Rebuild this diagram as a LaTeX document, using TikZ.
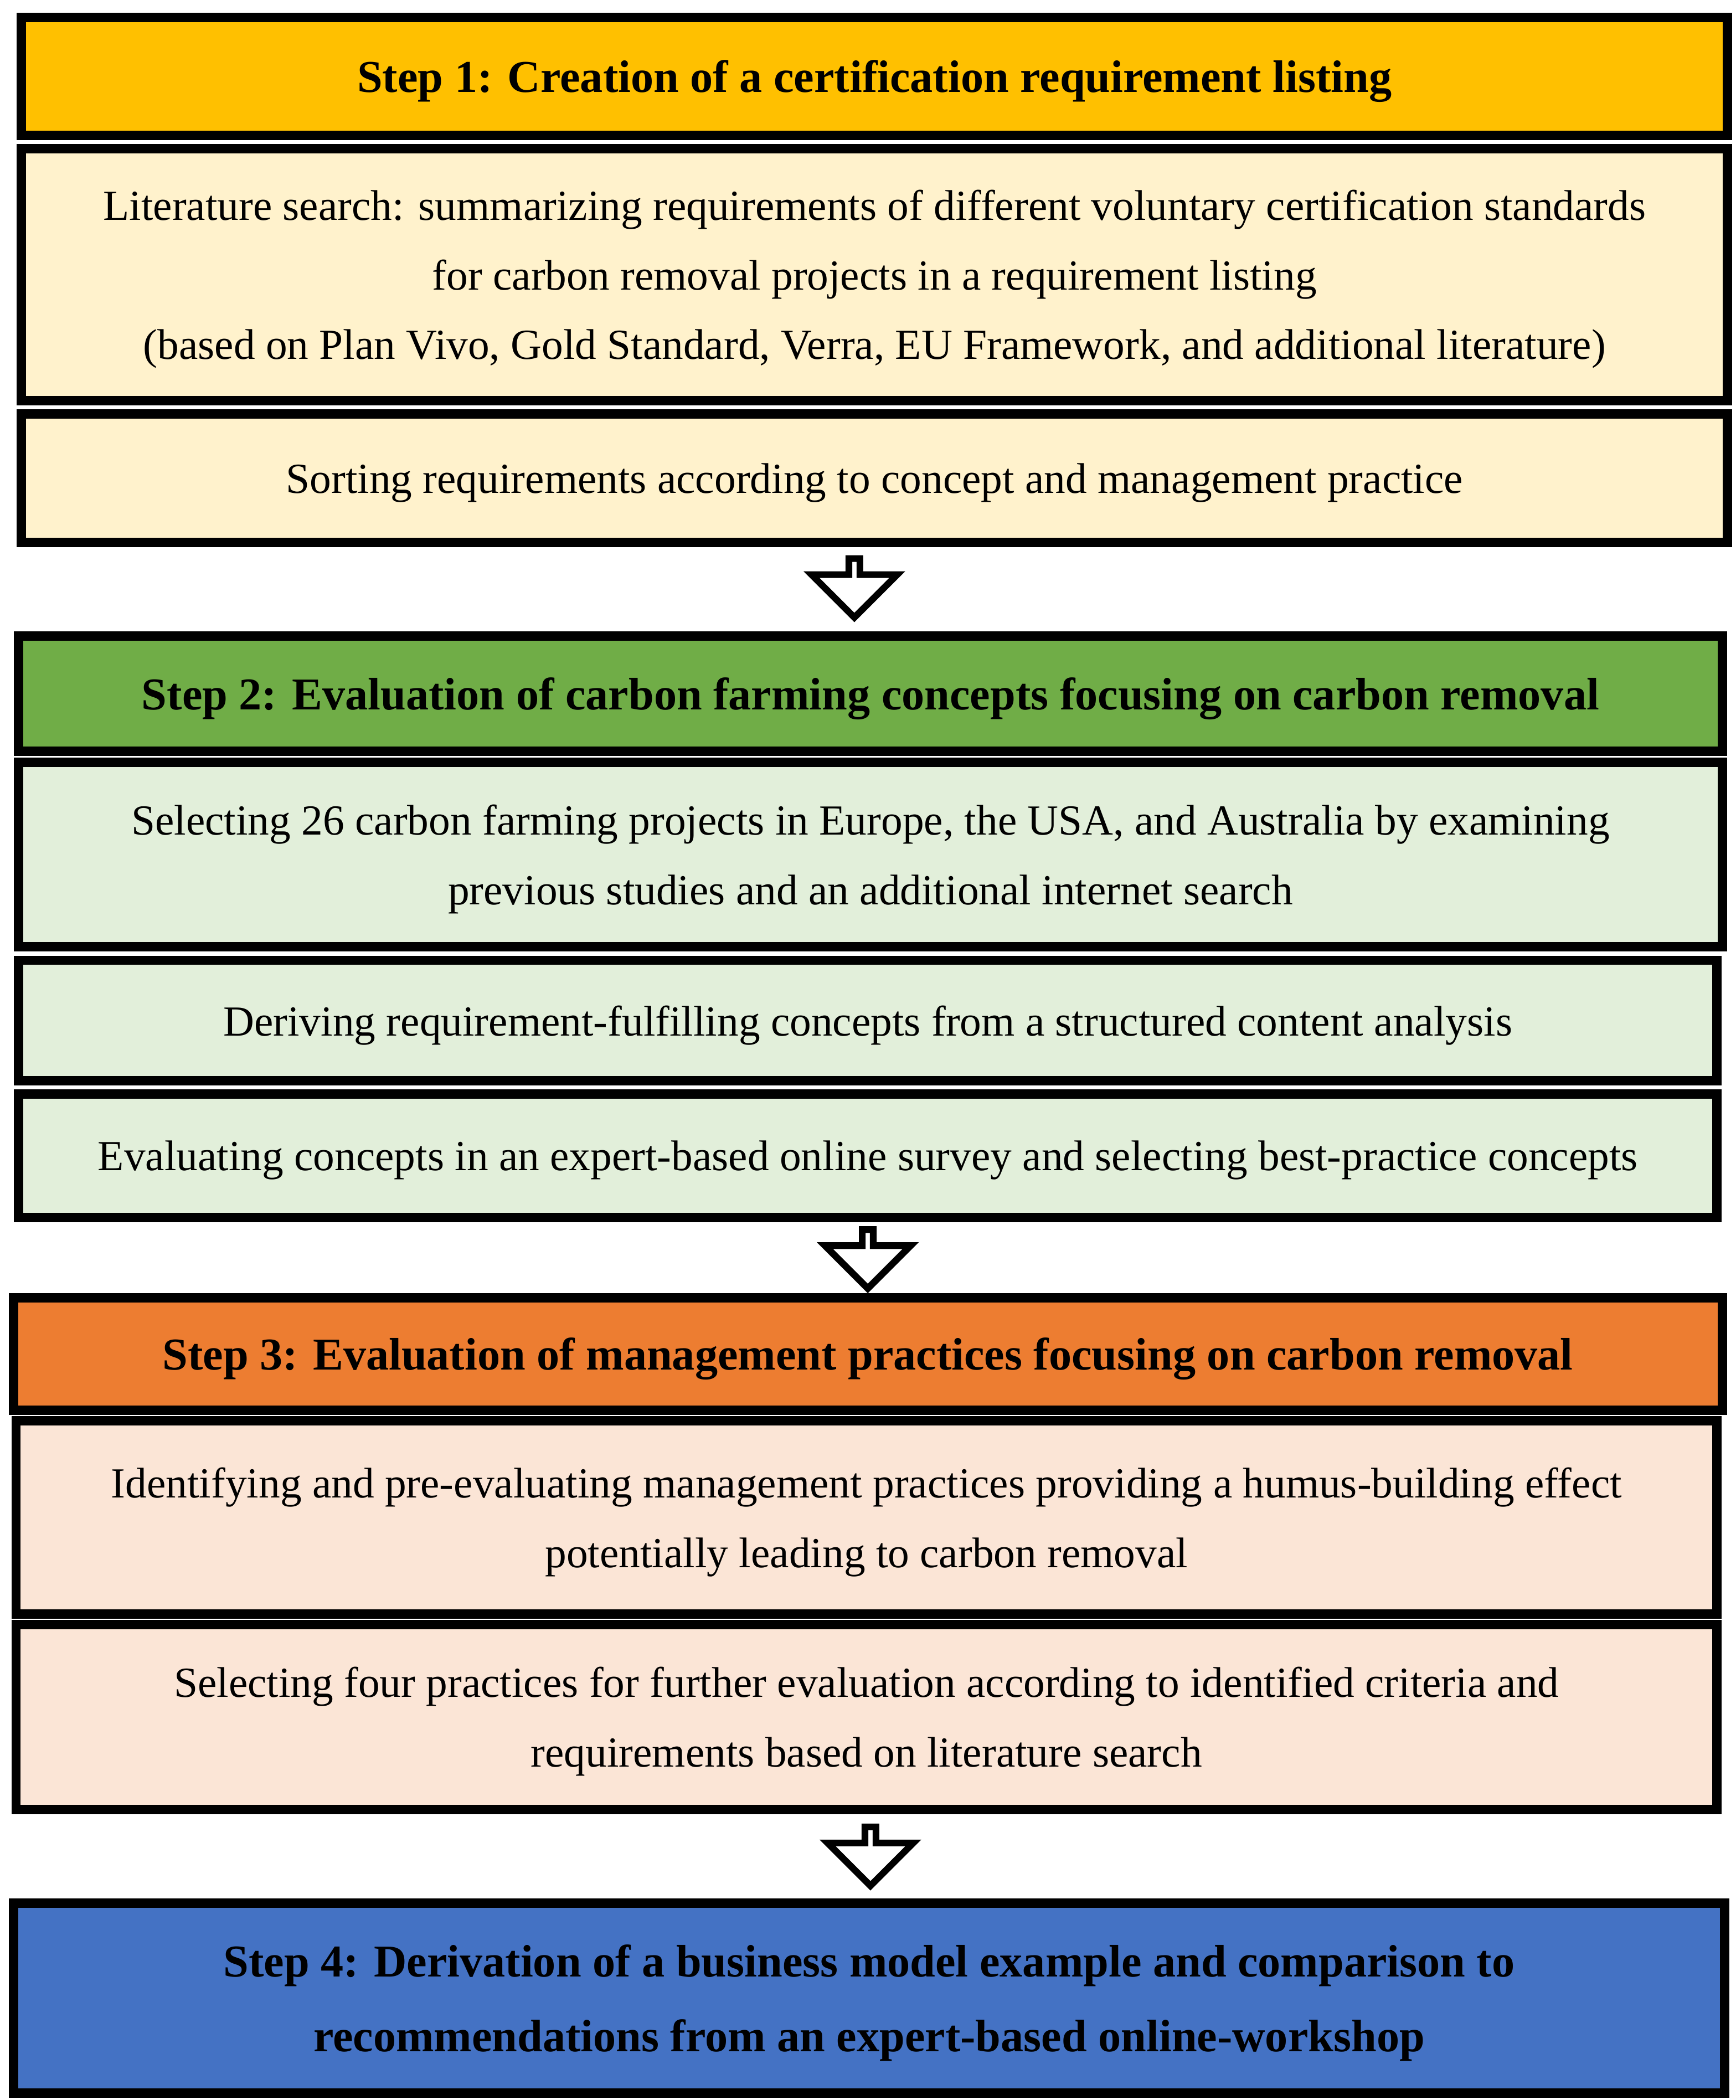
\documentclass[tikz,border=0pt]{standalone}
\usepackage{fontspec}
\setmainfont{Liberation Serif}
\usetikzlibrary{shapes.arrows}
\definecolor{c1}{HTML}{FFC000}\definecolor{c1l}{HTML}{FFF2CC}
\definecolor{c2}{HTML}{70AD47}\definecolor{c2l}{HTML}{E2EFDA}
\definecolor{c3}{HTML}{ED7D31}\definecolor{c3l}{HTML}{FBE5D6}
\definecolor{c4}{HTML}{4472C4}
\begin{document}
\begin{tikzpicture}[x=1pt,y=-1pt,
 bx/.style={draw=black,line width=7pt,align=center,font=\fontsize{32}{52}\selectfont,inner sep=0pt,text depth=0pt},
 hd/.style={bx,font=\fontsize{34}{56}\selectfont\bfseries},
 darrow/.style={single arrow,draw=black,line width=5pt,fill=white,shape border rotate=270,minimum width=64pt,single arrow head extend=17pt,minimum height=44pt,inner sep=0pt}]
\useasboundingbox (0,0) rectangle (1296,1568);
\newcommand{\bxat}[7]{\node[#1,fill=#2,minimum width=#5-#4,minimum height=#7-#6] (#3) at ({(#4+#5)/2},{(#6+#7)/2+3})}
\bxat{hd}{c1}{s1}{16}{1290}{10}{98}{Step 1: Creation of a certification requirement listing};
\bxat{bx}{c1l}{b1}{16}{1290}{108}{296}{Literature search: summarizing requirements of different voluntary certification standards\\for carbon removal projects in a requirement listing\\(based on Plan Vivo, Gold Standard, Verra, EU Framework, and additional literature)};
\bxat{bx}{c1l}{b2}{16}{1290}{306}{402}{Sorting requirements according to concept and management practice};
\node[darrow] (a1) at (638,437) {};
\bxat{hd}{c2}{s2}{14}{1286}{472}{558}{Step 2: Evaluation of carbon farming concepts focusing on carbon removal};
\bxat{bx}{c2l}{b3}{14}{1286}{566}{704}{Selecting 26 carbon farming projects in Europe, the USA, and Australia by examining\\previous studies and an additional internet search};
\bxat{bx}{c2l}{b4}{14}{1282}{714}{804}{Deriving requirement-fulfilling concepts from a structured content analysis};
\bxat{bx}{c2l}{b5}{14}{1282}{814}{906}{Evaluating concepts in an expert-based online survey and selecting best-practice concepts};
\node[darrow] (a2) at (648,938) {};
\bxat{hd}{c3}{s3}{10}{1286}{966}{1050}{Step 3: Evaluation of management practices focusing on carbon removal};
\bxat{bx}{c3l}{b6}{12}{1282}{1058}{1202}{Identifying and pre-evaluating management practices providing a humus-building effect\\potentially leading to carbon removal};
\bxat{bx}{c3l}{b7}{12}{1282}{1210}{1348}{Selecting four practices for further evaluation according to identified criteria and\\requirements based on literature search};
\node[darrow] (a3) at (650,1384) {};
\bxat{hd}{c4}{s4}{10}{1288}{1418}{1560}{Step 4: Derivation of a business model example and comparison to\\recommendations from an expert-based online-workshop};
\end{tikzpicture}
\end{document}
